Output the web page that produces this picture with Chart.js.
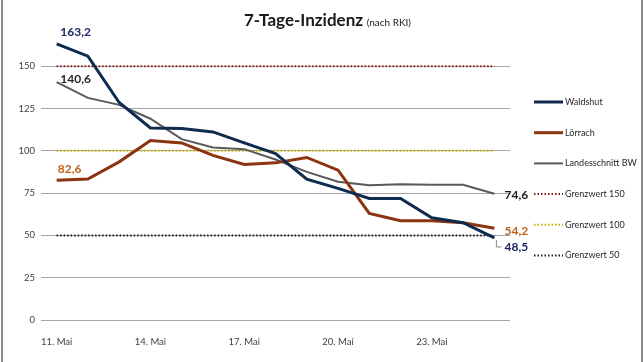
<!DOCTYPE html>
<html>
<head>
<meta charset="utf-8">
<script src="https://cdn.jsdelivr.net/npm/chart.js@4.4.1/dist/chart.umd.min.js"></script>
<style>
  html, body { margin: 0; padding: 0; background: #fff; }
  #wrap { width: 644px; height: 362px; position: relative; }
</style>
</head>
<body>
<div id="wrap"><canvas id="chart" width="644" height="362"></canvas></div>
<script>
const dayLabels = ['11. Mai', '12. Mai', '13. Mai', '14. Mai', '15. Mai', '16. Mai', '17. Mai', '18. Mai',
    '19. Mai', '20. Mai', '21. Mai', '22. Mai', '23. Mai', '24. Mai', '25. Mai'];

const waldshut = [163.2, 156.0, 128.6, 113.5, 113.2, 111.2, 104.7, 98.4, 83.3, 77.8, 71.9, 71.9, 60.4, 57.5, 48.5];
const loerrach = [82.6, 83.3, 93.5, 106.1, 104.7, 97.3, 92.0, 92.9, 96.1, 88.6, 63.0, 58.7, 58.7, 57.5, 54.2];
const landesBW = [140.6, 131.3, 127.2, 119.0, 106.9, 102.0, 101.0, 94.9, 87.6, 81.7, 79.7, 80.3, 80.0, 80.0, 74.6];

const grenz150 = [150, 150, 150, 150, 150, 150, 150, 150, 150, 150, 150, 150, 150, 150, 150];
const grenz100 = [100, 100, 100, 100, 100, 100, 100, 100, 100, 100, 100, 100, 100, 100, 100];
const grenz50 = [50, 50, 50, 50, 50, 50, 50, 50, 50, 50, 50, 50, 50, 50, 50];

const yTicks = [0, 25, 50, 75, 100, 125, 150];

const FONT = 'Lato, "Open Sans", sans-serif';

function fmt(v) {
    return v.toFixed(1).replace('.', ',');
}

// frame, title, legend and value labels
const decoPlugin = {
    id: 'deco',
    beforeDraw(chart) {
        const ctx = chart.ctx;
        ctx.save();
        ctx.fillStyle = '#fff';
        ctx.fillRect(0, 0, chart.width, chart.height);
        ctx.fillStyle = '#8c8c8c';
        ctx.fillRect(1, 0, 2, chart.height);
        ctx.fillRect(641, 0, 2, chart.height);
        ctx.restore();
    },
    afterDraw(chart) {
        const ctx = chart.ctx;
        ctx.save();

        // title
        ctx.fillStyle = '#1a1a1a';
        ctx.textBaseline = 'alphabetic';
        ctx.font = 'bold 17px ' + FONT;
        const t1 = '7-Tage-Inzidenz';
        const t2 = ' (nach RKI)';
        const w1 = ctx.measureText(t1).width;
        ctx.font = '10px ' + FONT;
        const w2 = ctx.measureText(t2).width;
        const tx = 327 - (w1 + w2) / 2;
        ctx.font = 'bold 17px ' + FONT;
        ctx.fillText(t1, tx, 26);
        ctx.font = '10px ' + FONT;
        ctx.fillText(t2, tx + w1 + 1, 26);

        // legend
        ctx.textBaseline = 'middle';
        ctx.font = '9px ' + FONT;
        chart.data.datasets.forEach((ds, i) => {
            const y = 102 + i * 30.7;
            ctx.strokeStyle = ds.borderColor;
            ctx.lineWidth = ds.borderWidth;
            ctx.setLineDash(ds.borderDash || []);
            ctx.beginPath();
            ctx.moveTo(534, y);
            ctx.lineTo(563, y);
            ctx.stroke();
            ctx.setLineDash([]);
            ctx.fillStyle = '#262626';
            ctx.fillText(ds.label, 565, y);
        });

        // value labels
        ctx.font = 'bold 12px ' + FONT;
        ctx.textAlign = 'center';
        const pt = (d, i) => chart.getDatasetMeta(d).data[i];
        const last = dayLabels.length - 1;
        const labels = [
            [0, 0, waldshut[0], '#1e2466', 19, -12],
            [2, 0, landesBW[0], '#262626', 19, -3],
            [1, 0, loerrach[0], '#c0601a', 13, -11],
            [2, last, landesBW[last], '#1a1a1a', 22, 1],
            [1, last, loerrach[last], '#c0601a', 22, 3],
            [0, last, waldshut[last], '#1e2466', 22, 9]
        ];
        labels.forEach(([d, i, v, c, dx, dy]) => {
            const p = pt(d, i);
            ctx.fillStyle = c;
            ctx.fillText(fmt(v), p.x + dx, p.y + dy);
        });

        // leader line for Waldshut end label
        const pw = pt(0, last);
        ctx.strokeStyle = '#8c8c8c';
        ctx.lineWidth = 1;
        ctx.beginPath();
        ctx.moveTo(pw.x + 2, pw.y + 2);
        ctx.lineTo(pw.x + 2, pw.y + 9);
        ctx.lineTo(pw.x + 7, pw.y + 9);
        ctx.stroke();

        ctx.restore();
    }
};

const ctx = document.getElementById('chart').getContext('2d');
const chart = new Chart(ctx, {
    type: 'line',
    data: {
        labels: dayLabels,
        datasets: [{
            label: 'Waldshut',
            data: waldshut,
            borderColor: '#0f2b4f',
            borderWidth: 3
        }, {
            label: 'Lörrach',
            data: loerrach,
            borderColor: '#8a3412',
            borderWidth: 3
        }, {
            label: 'Landesschnitt BW',
            data: landesBW,
            borderColor: '#595959',
            borderWidth: 2
        }, {
            label: 'Grenzwert 150',
            data: grenz150,
            borderColor: '#8b1a1a',
            borderWidth: 2,
            borderDash: [1.5, 2]
        }, {
            label: 'Grenzwert 100',
            data: grenz100,
            borderColor: '#c8b000',
            borderWidth: 2,
            borderDash: [1.5, 2]
        }, {
            label: 'Grenzwert 50',
            data: grenz50,
            borderColor: '#1a1a1a',
            borderWidth: 2,
            borderDash: [1.5, 2]
        }]
    },
    options: {
        responsive: false,
        animation: false,
        layout: {
            padding: { top: 24, right: 134, left: 0, bottom: 0 }
        },
        elements: {
            point: { radius: 0 },
            line: { tension: 0, borderCapStyle: 'butt' }
        },
        plugins: {
            legend: { display: false },
            tooltip: { enabled: false },
            title: { display: false }
        },
        scales: {
            x: {
                offset: true,
                grid: { display: false },
                border: { display: false },
                afterFit: function(axis) { axis.height = 42; },
                ticks: {
                    autoSkip: false,
                    maxRotation: 0,
                    padding: 8,
                    color: '#404040',
                    font: { family: FONT, size: 9.5 },
                    callback: function(value, index) {
                        return index % 3 === 0 ? dayLabels[index] : '';
                    }
                }
            },
            y: {
                min: 0,
                max: 175,
                afterFit: function(axis) { axis.width = 41; },
                afterBuildTicks: function(axis) {
                    axis.ticks = yTicks.concat([175]).map(v => ({ value: v }));
                },
                border: { display: false },
                grid: {
                    drawTicks: false,
                    lineWidth: 1,
                    color: function(c) { return c.tick && c.tick.value === 175 ? 'rgba(0,0,0,0)' : '#a6a6a6'; }
                },
                ticks: {
                    padding: 6,
                    color: '#404040',
                    font: { family: FONT, size: 9.5 },
                    callback: function(value) { return yTicks.includes(value) ? value : ''; }
                }
            }
        }
    },
    plugins: [decoPlugin]
});
</script>
</body>
</html>
